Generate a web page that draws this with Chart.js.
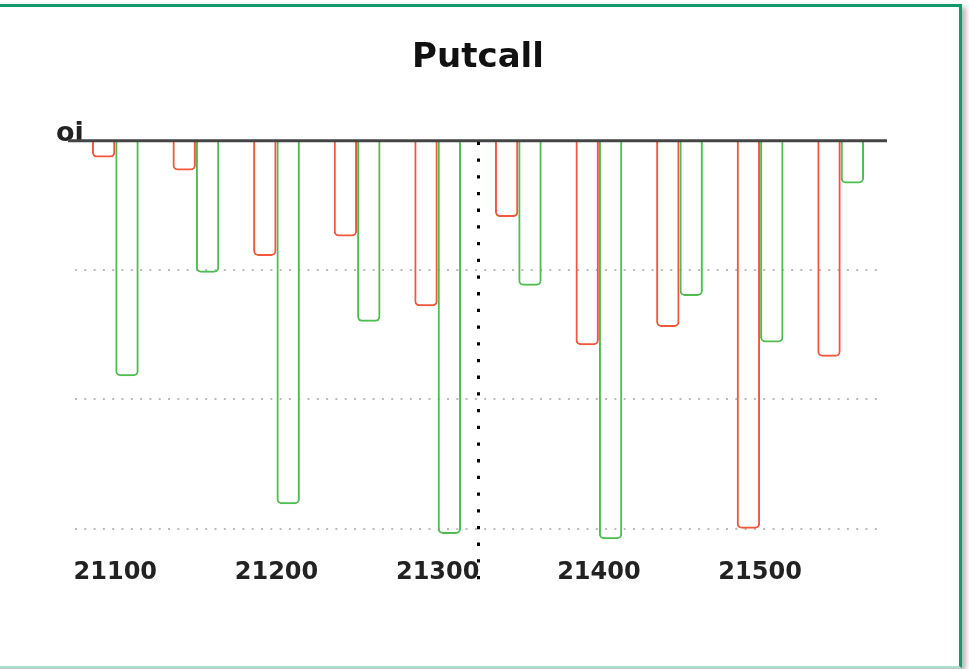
<!DOCTYPE html>
<html>
<head>
<meta charset="utf-8">
<script src="https://cdn.jsdelivr.net/npm/chart.js@4"></script>
<style>
    body { margin: 0; background: #fff; overflow: hidden; }
    #frame {
        position: absolute; left: -10px; top: 4px; width: 972px; height: 664px;
        box-sizing: border-box;
        border-top: 3px solid #14986e; border-right: 3px solid #14986e;
        border-bottom: 2px solid #a9e0cc;
        box-shadow: 4px 3px 5px rgba(0,0,0,0.28);
        background: #fff;
    }
    #c { position: absolute; left: 0; top: 0; }
</style>
</head>
<body>
<div id="frame"></div>
<canvas id="c" width="960" height="666"></canvas>
<script>
// strikes
const strikes = [21100, 21150, 21200, 21250, 21300, 21350, 21400, 21450, 21500, 21550];
// open interest (hanging down from the zero line)
const putOi  = [1.3, 2.3, 8.9, 7.4, 12.8, 5.9, 15.8, 14.4, 30.0, 16.7];
const callOi = [18.2, 10.2, 28.1, 14.0, 30.4, 11.2, 30.8, 12.0, 15.6, 3.3];
const gridSteps = [0, 10, 20, 30];
const spotPrice = 21325;

const redColor = '#f0573b';
const greenColor = '#4dbd4f';

// marker du spot + ligne zero + libelle "oi"
const overlay = {
    id: 'overlay',
    afterDatasetsDraw(chart) {
        const { ctx, scales: { x, y } } = chart;
        const y0 = y.getPixelForValue(0);

        ctx.save();
        ctx.fillStyle = '#222';
        ctx.font = 'bold 27px "DejaVu Sans"';
        ctx.textAlign = 'left';
        ctx.textBaseline = 'alphabetic';
        ctx.fillText('oi', 56, y0);

        ctx.strokeStyle = '#444';
        ctx.lineWidth = 3;
        ctx.beginPath();
        ctx.moveTo(68, y0);
        ctx.lineTo(887, y0);
        ctx.stroke();

        const idx = (spotPrice - strikes[0]) / (strikes[1] - strikes[0]);
        const sx = Math.round(x.getPixelForValue(idx)) + 0.5;
        ctx.strokeStyle = '#000';
        ctx.lineWidth = 3;
        ctx.setLineDash([3.3, 13.4]);
        ctx.beginPath();
        ctx.moveTo(sx, y0 + 1);
        ctx.lineTo(sx, 584);
        ctx.stroke();
        ctx.restore();
    }
};

new Chart(document.getElementById('c'), {
    type: 'bar',
    data: {
        labels: strikes.map(String),
        datasets: [{
            label: 'Put',
            data: putOi,
            backgroundColor: 'rgba(0,0,0,0)',
            borderColor: redColor,
            borderWidth: 2,
            borderRadius: 5,
            borderSkipped: 'start'
        }, {
            label: 'Call',
            data: callOi,
            backgroundColor: 'rgba(0,0,0,0)',
            borderColor: greenColor,
            borderWidth: 2,
            borderRadius: 5,
            borderSkipped: 'start'
        }]
    },
    options: {
        responsive: false,
        animation: false,
        devicePixelRatio: 1,
        categoryPercentage: 0.58,
        barPercentage: 1,
        layout: { padding: { left: 75, right: 79, top: 10, bottom: 69 } },
        plugins: {
            legend: { display: false },
            tooltip: { enabled: false },
            title: {
                display: true,
                text: 'Putcall',
                color: '#111',
                font: { family: '"DejaVu Sans"', size: 34, weight: 'bold' },
                padding: { top: 28, bottom: 62 }
            }
        },
        scales: {
            x: {
                grid: { display: false, drawTicks: false },
                border: { display: false },
                ticks: {
                    autoSkip: false,
                    maxRotation: 0,
                    padding: 10,
                    color: '#222',
                    font: { family: '"DejaVu Sans"', size: 24, weight: 'bold' },
                    callback: (v, i) => (i % 2 === 0 ? strikes[i] : '')
                }
            },
            y: {
                reverse: true,
                min: 0,
                max: 31.5,
                afterBuildTicks: axis => {
                    axis.ticks = gridSteps.map(v => ({ value: v }));
                },
                grid: { color: '#bbb', lineWidth: 2, drawTicks: false },
                border: { display: false, dash: [2, 7.3] },
                ticks: { display: false }
            }
        }
    },
    plugins: [overlay]
});
</script>
</body>
</html>
